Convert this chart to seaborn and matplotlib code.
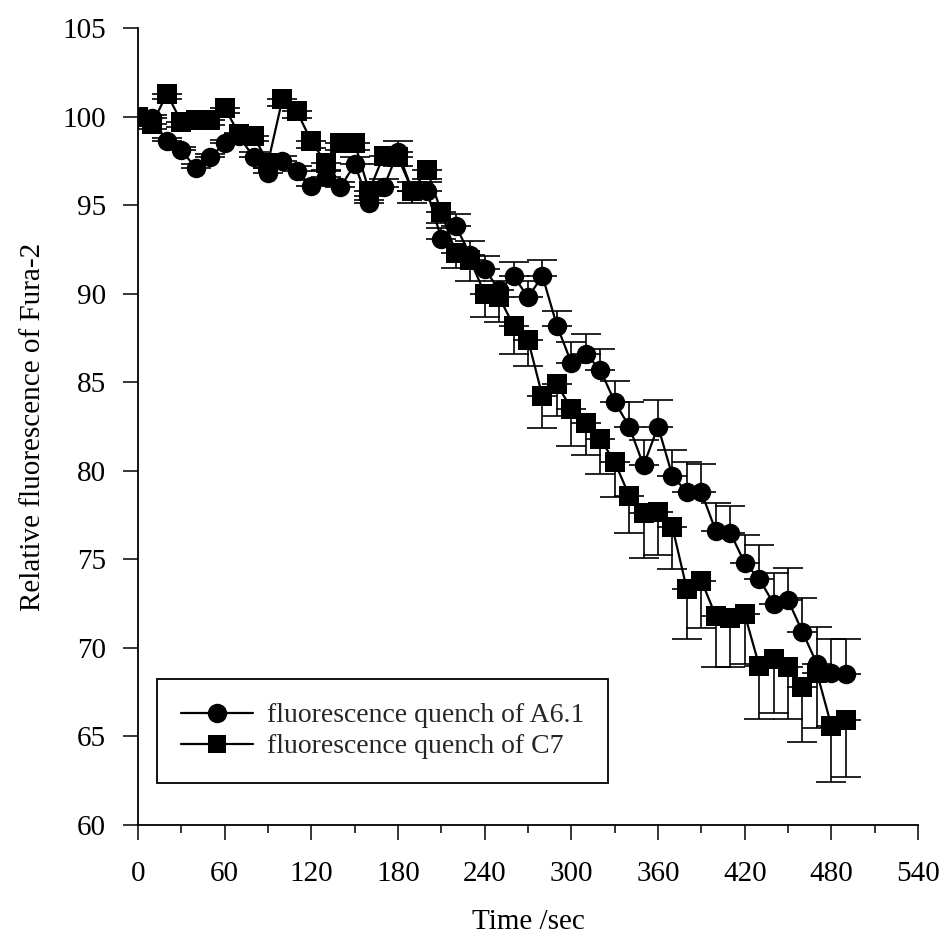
import numpy as np
import pandas as pd
import matplotlib
matplotlib.use("Agg")
import matplotlib.pyplot as plt
import seaborn as sns
from matplotlib.lines import Line2D
from matplotlib.ticker import MultipleLocator

# ---- data ----
time_sec = [0, 10, 20, 30, 40, 50, 60, 70, 80, 90,
            100, 110, 120, 130, 140, 150, 160, 170, 180, 190,
            200, 210, 220, 230, 240, 250, 260, 270, 280, 290,
            300, 310, 320, 330, 340, 350, 360, 370, 380, 390,
            400, 410, 420, 430, 440, 450, 460, 470, 480, 490]

a61_values = [100.0, 99.9, 98.6, 98.1, 97.1, 97.7, 98.5, 98.9, 97.7, 96.8,
              97.5, 96.9, 96.1, 96.6, 96.0, 97.3, 95.1, 96.0, 98.0, 95.8,
              95.8, 93.1, 93.8, 92.2, 91.4, 90.2, 91.0, 89.8, 91.0, 88.2,
              86.1, 86.6, 85.7, 83.9, 82.5, 80.3, 82.5, 79.7, 78.8, 78.8,
              76.6, 76.5, 74.8, 73.9, 72.5, 72.7, 70.9, 69.1, 68.6, 68.5]

a61_err_up = [0.2, 0.2, 0.2, 0.2, 0.2, 0.2, 0.2, 0.2, 0.3, 0.3,
              0.3, 0.3, 0.3, 0.3, 0.3, 0.4, 0.4, 0.5, 0.6, 0.5,
              0.5, 0.6, 0.7, 0.8, 0.7, 0.5, 0.8, 0.9, 0.9, 0.8,
              1.2, 1.15, 1.15, 1.15, 1.4, 1.45, 1.5, 1.5, 1.7, 1.6,
              1.6, 1.5, 1.6, 1.9, 1.7, 1.8, 1.9, 2.1, 1.9, 2.0]

c7_values = [100.0, 99.6, 101.3, 99.7, 99.8, 99.8, 100.5, 99.0, 98.9, 97.4,
             101.0, 100.3, 98.6, 97.4, 98.5, 98.5, 95.8, 97.8, 97.7, 95.8,
             97.0, 94.6, 92.3, 91.9, 90.0, 89.8, 88.2, 87.4, 84.2, 84.9,
             83.5, 82.7, 81.8, 80.5, 78.6, 77.6, 77.7, 76.8, 73.3, 73.8,
             71.8, 71.7, 71.9, 69.0, 69.4, 68.9, 67.8, 68.6, 65.6, 65.9]

c7_err_down = [0.2, 0.3, 0.3, 0.3, 0.3, 0.3, 0.3, 0.3, 0.3, 0.3,
               0.4, 0.4, 0.4, 0.4, 0.4, 0.4, 0.5, 0.5, 0.5, 0.7,
               0.5, 0.6, 0.85, 1.2, 1.3, 1.4, 1.6, 1.5, 1.8, 1.8,
               2.1, 1.8, 2.0, 2.0, 2.1, 2.5, 2.45, 2.35, 2.8, 2.65,
               2.9, 2.8, 2.8, 3.0, 3.1, 2.9, 3.1, 3.1, 3.2, 3.2]

series_names = ["fluorescence quench of A6.1", "fluorescence quench of C7"]
x_ticks = [0, 60, 120, 180, 240, 300, 360, 420, 480, 540]
y_ticks = [60, 65, 70, 75, 80, 85, 90, 95, 100, 105]

# ---- styling ----
sns.set_theme(style="ticks")
plt.rcParams["font.family"] = ["Liberation Serif", "DejaVu Serif"]
plt.rcParams["axes.linewidth"] = 1.2

df = pd.DataFrame({
    "time": time_sec + time_sec,
    "value": a61_values + c7_values,
    "series": [series_names[0]] * len(time_sec) + [series_names[1]] * len(time_sec),
})

fig = plt.figure(figsize=(9.44, 9.41), dpi=100)
ax = fig.add_axes([0.1462, 0.1233, 0.8263, 0.8469])

# error bars (one-sided: up for A6.1, down for C7)
zeros = [0.0] * len(time_sec)
ax.errorbar(time_sec, a61_values, yerr=[zeros, a61_err_up], fmt="none",
            ecolor="black", elinewidth=1.2, capsize=10.5, capthick=1.2, zorder=2)
ax.errorbar(time_sec, c7_values, yerr=[c7_err_down, zeros], fmt="none",
            ecolor="black", elinewidth=1.2, capsize=10.5, capthick=1.2, zorder=2)

sns.lineplot(data=df, x="time", y="value", hue="series", style="series",
             palette=["black", "black"], markers=["o", "s"], dashes=False,
             markersize=14, linewidth=1.6, markeredgecolor="black",
             markeredgewidth=0, legend=False, ax=ax, zorder=3, sort=False)

ax.set_xlim(0, 540)
ax.set_ylim(60, 105)
ax.set_xticks(x_ticks)
ax.set_yticks(y_ticks)
ax.xaxis.set_minor_locator(MultipleLocator(30))
ax.tick_params(axis="both", which="major", direction="out", length=11,
               width=1.1, color="black", labelsize=21, labelcolor="black")
ax.tick_params(axis="y", which="major", pad=12)
ax.tick_params(axis="x", which="minor", direction="out", length=5.5, width=1.1, color="black")
ax.tick_params(axis="x", which="major", pad=15)
for side in ["top", "right"]:
    ax.spines[side].set_visible(False)
for side in ["left", "bottom"]:
    ax.spines[side].set_color("black")
    ax.spines[side].set_linewidth(1.3)

ax.set_xlabel("Time /sec", fontsize=21, color="black", labelpad=16)
ax.set_ylabel("Relative fluorescence of Fura-2", fontsize=21, color="black", labelpad=12)

handles = [
    Line2D([0], [0], color="black", lw=1.6, marker="o", markersize=14, markeredgewidth=0),
    Line2D([0], [0], color="black", lw=1.6, marker="s", markersize=13, markeredgewidth=0),
]
leg = ax.legend(handles, series_names, loc="lower left",
                bbox_to_anchor=(157 / 944, 1 - 783 / 941), bbox_transform=fig.transFigure,
                frameon=True, fancybox=False, edgecolor="black", framealpha=1,
                fontsize=20, handlelength=2.6, handletextpad=0.5,
                labelspacing=0.2, borderpad=0.85, borderaxespad=0)
leg.get_frame().set_linewidth(1.3)

fig.savefig("out.png", dpi=100, facecolor="white")
